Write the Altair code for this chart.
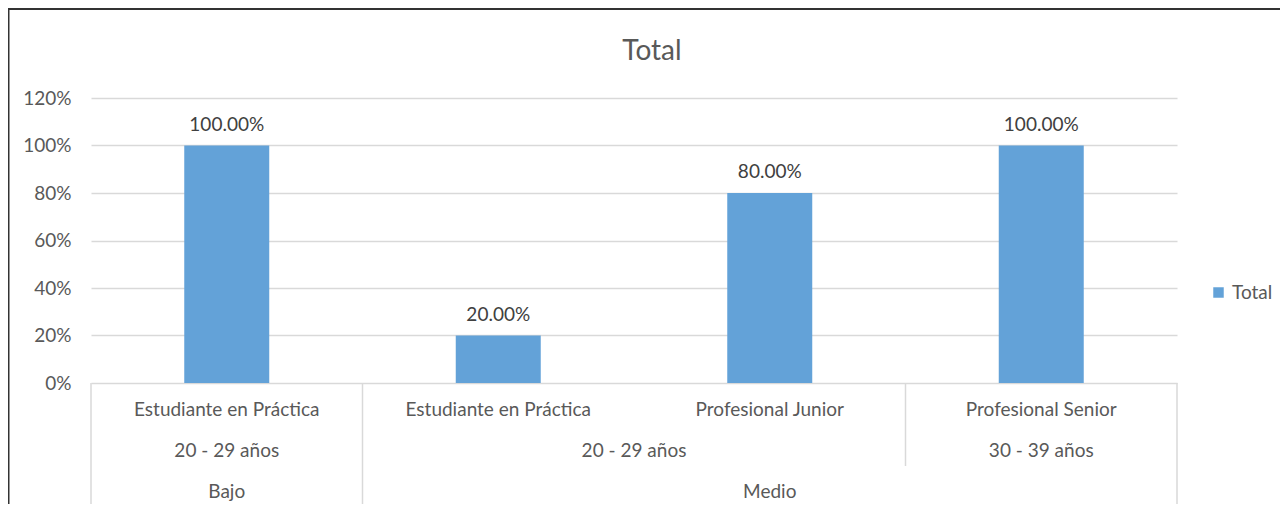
import altair as alt
import pandas as pd

# ---- data ----
roles = ["Estudiante en Práctica", "Estudiante en Práctica", "Profesional Junior", "Profesional Senior"]
ages = ["20 - 29 años", "20 - 29 años", "20 - 29 años", "30 - 39 años"]
levels = ["Bajo", "Medio", "Medio", "Medio"]
values = [1.00, 0.20, 0.80, 1.00]
y_ticks = [0, 0.2, 0.4, 0.6, 0.8, 1.0, 1.2]
series_name = "Total"
chart_title = "Total"

FONT = "Lato"
FS = 19
GREY = "#595959"
BLUE = "#63A2D8"
LINE = "#d9d9d9"
W, H = 1086, 285

n = len(roles)
df = pd.DataFrame({
    "center": [i + 0.5 for i in range(n)],
    "role": roles,
    "age": ages,
    "level": levels,
    "value": values,
    "series": [series_name] * n,
})
df["label"] = df["value"].map(lambda v: f"{v * 100:.2f}%")


def groups(keys):
    out, start = [], 0
    for i in range(1, len(keys) + 1):
        if i == len(keys) or keys[i] != keys[start]:
            out.append((start, i))
            start = i
    return out


lvl2_keys = list(zip(levels, ages))
g2 = groups(lvl2_keys)
g3 = groups(levels)
df2 = pd.DataFrame({"center": [(a + b) / 2 for a, b in g2], "text": [ages[a] for a, b in g2]})
df3 = pd.DataFrame({"center": [(a + b) / 2 for a, b in g3], "text": [levels[a] for a, b in g3]})

b3 = sorted({a for a, b in g3} | {b for a, b in g3})
b2 = sorted(({a for a, b in g2} | {b for a, b in g2}) - set(b3))
dfb3 = pd.DataFrame({"b": b3})
dfb2 = pd.DataFrame({"b": b2})

xscale = alt.Scale(domain=[0, n], nice=False, zero=False, padding=0)
X = lambda f: alt.X(f, scale=xscale, axis=None)

bars = alt.Chart(df).mark_bar(width=85).encode(
    x=X("center:Q"),
    y=alt.Y("value:Q", scale=alt.Scale(domain=[0, 1.2], nice=False),
            axis=alt.Axis(values=y_ticks, format=".0%", title=None, domain=False, ticks=False,
                          labelPadding=20, grid=True, gridColor=LINE, gridWidth=1.5,
                          labelColor=GREY, labelFont=FONT, labelFontSize=FS)),
    color=alt.Color("series:N", scale=alt.Scale(range=[BLUE]),
                    legend=alt.Legend(title=None, orient="none", legendX=1118, legendY=185,
                                      symbolType="square", symbolSize=110, symbolStrokeWidth=0,
                                      labelFont=FONT, labelFontSize=FS, labelColor=GREY)),
)

vlabels = alt.Chart(df).mark_text(dy=-21, font=FONT, fontSize=FS, color="#404040").encode(
    x=X("center:Q"), y="value:Q", text="label:N"
)

lab1 = alt.Chart(df).mark_text(font=FONT, fontSize=FS, color=GREY, baseline="middle").encode(
    x=X("center:Q"), y=alt.value(312), text="role:N"
)
lab2 = alt.Chart(df2).mark_text(font=FONT, fontSize=FS, color=GREY, baseline="middle").encode(
    x=X("center:Q"), y=alt.value(353), text="text:N"
)
lab3 = alt.Chart(df3).mark_text(font=FONT, fontSize=FS, color=GREY, baseline="middle").encode(
    x=X("center:Q"), y=alt.value(394), text="text:N"
)

sep3 = alt.Chart(dfb3).mark_rule(color=LINE, strokeWidth=1.5).encode(
    x=X("b:Q"), y=alt.value(H), y2=alt.value(420)
)
sep2 = alt.Chart(dfb2).mark_rule(color=LINE, strokeWidth=1.5).encode(
    x=X("b:Q"), y=alt.value(H), y2=alt.value(368)
)

title_df = pd.DataFrame({"t": [chart_title]})
title = alt.Chart(title_df).mark_text(font=FONT, fontSize=28, color=GREY, baseline="middle").encode(
    x=alt.value(561), y=alt.value(-46), text="t:N"
)

frame_df = pd.DataFrame({"k": [0]})
frame_top = alt.Chart(frame_df).mark_rule(color="#333333", strokeWidth=2).encode(
    x=alt.value(-83), x2=alt.value(1200), y=alt.value(-89)
)
frame_left = alt.Chart(frame_df).mark_rule(color="#333333", strokeWidth=2).encode(
    x=alt.value(-82.5), y=alt.value(-89), y2=alt.value(420)
)

chart = alt.layer(
    bars, vlabels, sep3, sep2, lab1, lab2, lab3, title, frame_top, frame_left
).properties(
    width=W, height=H,
    autosize=alt.AutoSizeParams(type="none"),
    padding={"left": 83, "top": 90, "right": 103, "bottom": 121},
).configure_view(stroke=None)

chart.save("out.html", embed_options={"renderer": "svg", "actions": False})
